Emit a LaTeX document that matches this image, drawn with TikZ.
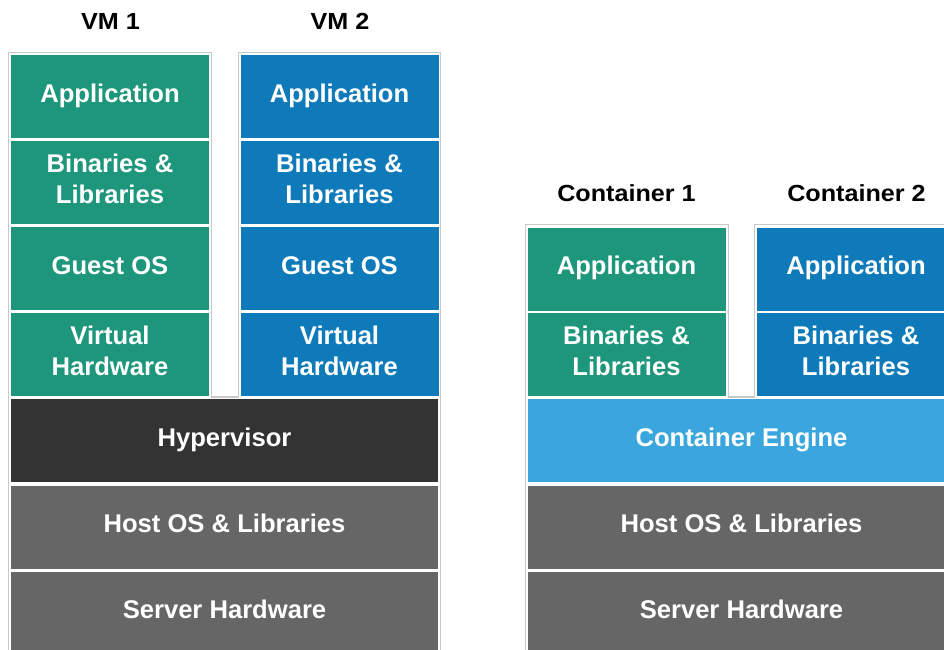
\documentclass[tikz,border=0pt]{standalone}
\usepackage{fontspec}
\setmainfont{Liberation Sans}
\newfontfamily\titlefont[FakeStretch=1.08]{Liberation Sans}
\definecolor{vmgreen}{RGB}{29,150,123}
\definecolor{vmblue}{RGB}{14,122,186}
\definecolor{hyperdark}{RGB}{51,51,51}
\definecolor{hostgray}{RGB}{102,102,102}
\definecolor{engineblue}{RGB}{58,166,221}
\definecolor{framegray}{RGB}{200,200,200}
\newcommand{\lyrstrut}{\rule[-8.8pt]{0pt}{28.8pt}}
\begin{document}
\begin{tikzpicture}[x=1pt,y=-1pt,
  layer/.style={draw=none, inner sep=0pt, align=center, text=white,
    font=\fontsize{25.6}{30.6}\selectfont\bfseries},
  colbox/.style={layer, minimum width=198pt, minimum height=83pt},
  widebox/.style={layer, minimum width=427pt, minimum height=83pt},
  title/.style={inner sep=0pt, anchor=base, text=black, font=\titlefont\fontsize{23.3}{28}\selectfont\bfseries},
  frameline/.style={draw=framegray, line width=1.5pt}]
\useasboundingbox (0,0) rectangle (944,649);
\clip (0,0) rectangle (944,649);
% frames
\draw[frameline] (8.7,660) -- (8.7,52.7) -- (211.3,52.7) -- (211.3,397) -- (238.7,397) -- (238.7,52.7) -- (440.3,52.7) -- (440.3,660);
\draw[frameline] (525.7,660) -- (525.7,224.7) -- (728.3,224.7) -- (728.3,397) -- (754.7,397) -- (754.7,224.7) -- (960,224.7);
% titles
\node[title] (vmonetitle) at (110.5,29.3) {VM 1};
\node[title] (vmtwotitle) at (340,29.3) {VM 2};
\node[title] (conetitle) at (626.5,201.7) {Container 1};
\node[title] (ctwotitle) at (856.5,201.7) {Container 2};
% VM 1
\node[colbox, fill=vmgreen] (vmoneapp) at (110,96.5) {\lyrstrut Application};
\node[colbox, fill=vmgreen] (vmonebin) at (110,182.5) {\lyrstrut Binaries \&\\\lyrstrut Libraries};
\node[colbox, fill=vmgreen] (vmoneos) at (110,268.5) {\lyrstrut Guest OS};
\node[colbox, fill=vmgreen] (vmonehw) at (110,354.5) {\lyrstrut Virtual\\\lyrstrut Hardware};
% VM 2
\node[colbox, fill=vmblue] (vmtwoapp) at (339.5,96.5) {\lyrstrut Application};
\node[colbox, fill=vmblue] (vmtwobin) at (339.5,182.5) {\lyrstrut Binaries \&\\\lyrstrut Libraries};
\node[colbox, fill=vmblue] (vmtwoos) at (339.5,268.5) {\lyrstrut Guest OS};
\node[colbox, fill=vmblue] (vmtwohw) at (339.5,354.5) {\lyrstrut Virtual\\\lyrstrut Hardware};
% VM lower stack
\node[widebox, fill=hyperdark] (hyper) at (224.5,440.5) {\lyrstrut Hypervisor};
\node[widebox, fill=hostgray] (vmhost) at (224.5,527) {\lyrstrut Host OS \& Libraries};
\node[widebox, fill=hostgray] (vmserver) at (224.5,613) {\lyrstrut Server Hardware};
% Container 1
\node[colbox, fill=vmgreen] (coneapp) at (626.5,269) {\lyrstrut Application};
\node[colbox, fill=vmgreen] (conebin) at (626.5,354.5) {\lyrstrut Binaries \&\\\lyrstrut Libraries};
% Container 2
\node[colbox, fill=vmblue] (ctwoapp) at (856,269) {\lyrstrut Application};
\node[colbox, fill=vmblue] (ctwobin) at (856,354.5) {\lyrstrut Binaries \&\\\lyrstrut Libraries};
% Container lower stack
\node[widebox, fill=engineblue] (engine) at (741.5,440.5) {\lyrstrut Container Engine};
\node[widebox, fill=hostgray] (chost) at (741.5,527) {\lyrstrut Host OS \& Libraries};
\node[widebox, fill=hostgray] (cserver) at (741.5,613) {\lyrstrut Server Hardware};
\end{tikzpicture}
\end{document}
